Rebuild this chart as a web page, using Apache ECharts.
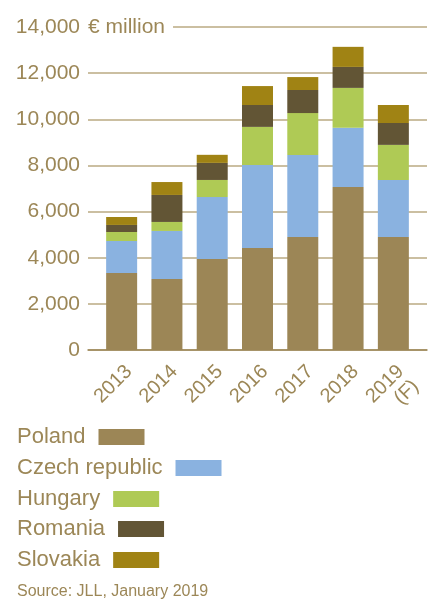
<!DOCTYPE html>
<html>
<head>
<meta charset="utf-8">
<script src="https://cdn.jsdelivr.net/npm/echarts@6/dist/echarts.min.js"></script>
<style>
  html, body { margin: 0; padding: 0; background: #fff; }
  #chart { width: 432px; height: 599px; }
</style>
</head>
<body>
<div id="chart"></div>
<script>
// years on the x axis
var years = ['2013', '2014', '2015', '2016', '2017', '2018', '2019\n(F)'];
// € million per country
var poland = [3340, 3080, 3940, 4420, 4900, 7070, 4900];
var czech = [1385, 2080, 2690, 3600, 3550, 2560, 2470];
var hungary = [390, 390, 740, 1650, 1820, 1730, 1520];
var romania = [305, 1170, 740, 950, 1000, 910, 950];
var slovakia = [345, 560, 350, 820, 560, 870, 780];
var countries = ['Poland', 'Czech republic', 'Hungary', 'Romania', 'Slovakia'];

var gold = '#9c8757';
var font = 'Liberation Sans';

var chart = echarts.init(document.getElementById('chart'));

function bar(name, data, color) {
  return {
    name: name,
    type: 'bar',
    stack: 'total',
    xAxisIndex: 1,
    yAxisIndex: 1,
    barWidth: 31,
    itemStyle: { color: color },
    data: data
  };
}

// one legend per row so the swatch sits right after its own text
var legendTops = [426, 457, 488, 518, 549];
var legends = countries.map(function (c, i) {
  return {
    orient: 'vertical',
    left: 17,
    top: legendTops[i],
    padding: 0,
    align: 'right',
    icon: 'rect',
    itemWidth: 46,
    itemHeight: 16,
    textStyle: { color: gold, fontSize: 22, fontFamily: font, padding: [0, 8, 0, 0] },
    data: [c]
  };
});

var option = {
  animation: false,
  textStyle: { fontFamily: font },
  grid: [
    // full width grid only for grid lines and the base line
    { left: 88, right: 5, top: 27, bottom: 249 },
    // bars
    { left: 99, right: 16, top: 27, bottom: 249 }
  ],
  xAxis: [
    {
      gridIndex: 0,
      type: 'value',
      min: 0,
      max: 1,
      axisLine: { show: true, lineStyle: { color: gold, width: 1.5 } },
      axisTick: { show: false },
      axisLabel: { show: false },
      splitLine: { show: false }
    },
    {
      gridIndex: 1,
      type: 'category',
      data: years,
      axisLine: { show: false },
      axisTick: { show: false },
      axisLabel: {
        rotate: 45,
        margin: 11,
        color: gold,
        fontSize: 20,
        lineHeight: 21,
        verticalAlign: 'top',
        fontFamily: font
      }
    }
  ],
  yAxis: [
    {
      gridIndex: 0,
      type: 'value',
      min: 0,
      max: 14000,
      interval: 2000,
      axisLine: { show: false },
      axisTick: { show: false },
      axisLabel: {
        margin: 8,
        color: gold,
        fontSize: 21,
        fontFamily: font,
        formatter: function (v) { return v.toLocaleString('en-US'); }
      },
      splitLine: { lineStyle: { color: '#cbbfa1', width: 2 } }
    },
    {
      gridIndex: 1,
      type: 'value',
      min: 0,
      max: 14000,
      show: false
    }
  ],
  legend: legends,
  graphic: [
    {
      type: 'text',
      x: 88,
      y: 27,
      z: 100,
      style: {
        text: '€ million',
        fill: gold,
        font: '21px ' + font,
        verticalAlign: 'middle',
        backgroundColor: '#fff',
        padding: [4, 8, 4, 0]
      }
    },
    {
      type: 'text',
      left: 17,
      top: 584,
      style: {
        text: 'Source: JLL, January 2019',
        fill: gold,
        font: '16px ' + font
      }
    }
  ],
  series: [
    bar('Poland', poland, '#9c8656'),
    bar('Czech republic', czech, '#8ab2e0'),
    bar('Hungary', hungary, '#afca55'),
    bar('Romania', romania, '#625535'),
    bar('Slovakia', slovakia, '#a08314')
  ]
};

chart.setOption(option);
</script>
</body>
</html>
